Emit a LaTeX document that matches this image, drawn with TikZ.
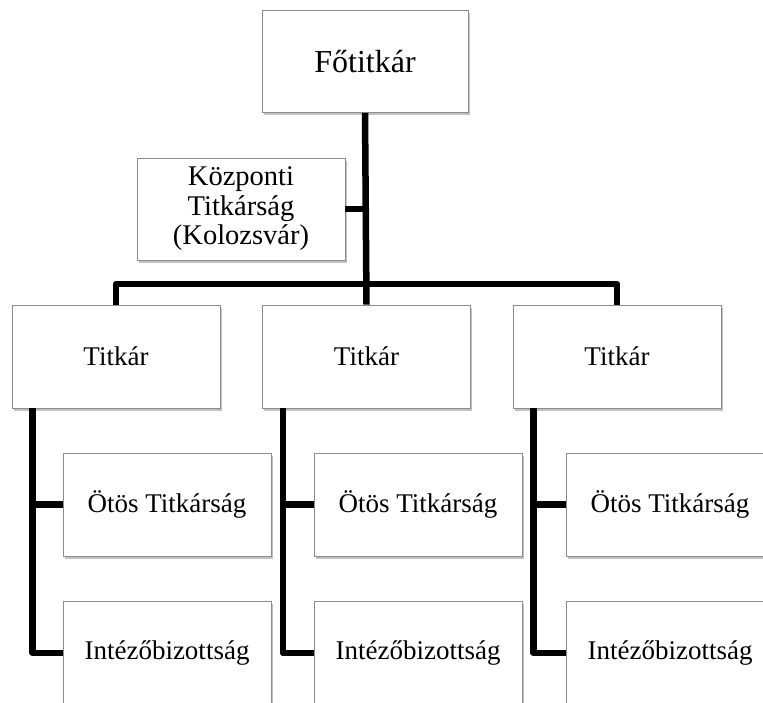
\documentclass[tikz,border=0pt]{standalone}
\usepackage{fontspec}
\setmainfont{Liberation Serif}
\usetikzlibrary{shadows}
\begin{document}
\begin{tikzpicture}[x=1pt,y=-1pt,
  orgbox/.style={draw=black!45, line width=0.8pt, fill=white, inner sep=0pt,
    minimum width=208pt, minimum height=103pt, align=center,
    font=\fontsize{27}{29}\selectfont,
    drop shadow={shadow xshift=1.5pt, shadow yshift=-2.5pt, opacity=0.35, fill=black!70}},
  link/.style={line width=6.5pt, black, line join=round}]
\useasboundingbox (0,0) rectangle (763,702);
\clip (0,0) rectangle (763,702);
% boxes
\node[orgbox, minimum width=206pt, minimum height=102pt, font=\fontsize{32}{34}\selectfont] (f) at (365,61.5) {Főtitkár};
\node[orgbox, minimum height=102pt, font=\fontsize{28.5}{29.5}\selectfont] (k) at (241,209) {Központi\\Titkárság\\(Kolozsvár)};
\node[orgbox] (t1) at (116,356.5) {Titkár};
\node[orgbox] (t2) at (366.5,356.5) {Titkár};
\node[orgbox] (t3) at (617,356.5) {Titkár};
\node[orgbox] (o1) at (167,504.5) {Ötös Titkárság};
\node[orgbox] (o2) at (418,504.5) {Ötös Titkárság};
\node[orgbox] (o3) at (670,504.5) {Ötös Titkárság};
\node[orgbox] (i1) at (167,653) {Intézőbizottság};
\node[orgbox] (i2) at (418,653) {Intézőbizottság};
\node[orgbox] (i3) at (670,653) {Intézőbizottság};
% connectors
\coordinate (bar) at (366.5,284);
\draw[link] (f.south) -- (t2.north);
\draw[link] (k.east) -- (k.east -| f.south);
\draw[link] (t1.north) |- (bar) -| (t3.north);
\coordinate (v1) at ([xshift=21pt]t1.south west);
\coordinate (v2) at ([xshift=21pt]t2.south west);
\coordinate (v3) at ([xshift=21pt]t3.south west);
\draw[link] (v1) |- (i1.west);
\draw[link] (v1 |- o1.west) -- (o1.west);
\draw[link] (v2) |- (i2.west);
\draw[link] (v2 |- o2.west) -- (o2.west);
\draw[link] (v3) |- (i3.west);
\draw[link] (v3 |- o3.west) -- (o3.west);
\end{tikzpicture}
\end{document}
